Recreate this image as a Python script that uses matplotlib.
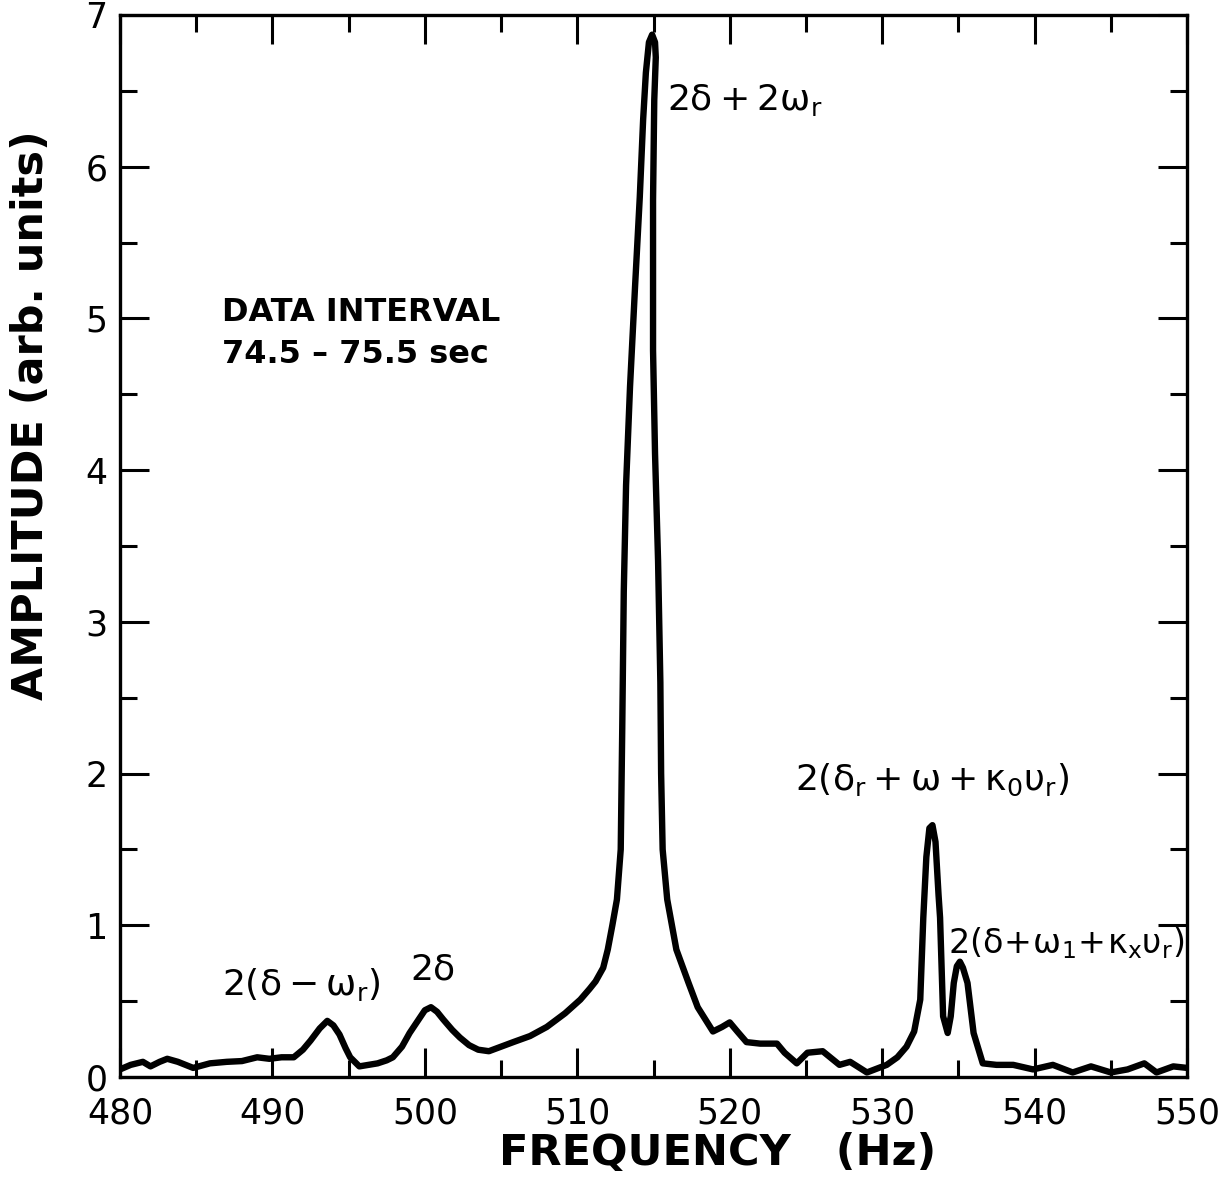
import matplotlib
matplotlib.use("Agg")
import matplotlib.pyplot as plt
from matplotlib.ticker import MultipleLocator

# spectrum (Hz, arb. units)
freq = [480.0, 480.7, 481.5, 482.0, 482.6, 483.1, 483.8, 484.8, 485.9, 487.0,
        488.0, 489.0, 489.8, 490.6, 491.4, 492.0, 492.5, 493.1, 493.6, 494.0,
        494.4, 494.8, 495.1, 495.7, 496.3, 496.9, 497.5, 497.9, 498.5, 499.0,
        499.6, 500.0, 500.4, 500.8, 501.2, 501.8, 502.3, 502.9, 503.5, 504.2,
        505.0, 505.8, 506.9, 508.0, 509.2, 510.2, 510.8, 511.2, 511.7, 512.0,
        512.3, 512.6, 512.85, 512.95, 513.05, 513.2, 513.46, 513.79, 514.1, 514.32,
        514.5, 514.7, 514.91, 515.1, 515.15, 515.05, 514.97, 514.97, 515.1, 515.3,
        515.45, 515.5, 515.6, 515.9, 516.5, 517.3, 517.9, 518.9, 519.5, 520.0,
        520.5, 521.1, 522.0, 523.1, 523.6, 524.4, 525.1, 526.1, 527.2, 527.9,
        529.0, 530.3, 531.0, 531.6, 532.1, 532.5, 532.7, 532.9, 533.1, 533.3,
        533.5, 533.7, 533.8, 534.0, 534.3, 534.5, 534.7, 534.9, 535.1, 535.3,
        535.6, 536.0, 536.6, 537.5, 538.6, 539.9, 541.2, 542.5, 543.7, 545.0,
        546.1, 547.2, 548.0, 549.1, 550.0]
amp = [0.05, 0.08, 0.10, 0.07, 0.10, 0.12, 0.10, 0.06, 0.09, 0.10,
       0.105, 0.13, 0.12, 0.13, 0.13, 0.18, 0.24, 0.32, 0.37, 0.34,
       0.28, 0.19, 0.13, 0.07, 0.08, 0.09, 0.11, 0.13, 0.20, 0.29,
       0.38, 0.44, 0.46, 0.43, 0.38, 0.31, 0.26, 0.21, 0.18, 0.17,
       0.20, 0.23, 0.27, 0.33, 0.42, 0.51, 0.58, 0.63, 0.72, 0.84,
       1.00, 1.17, 1.50, 2.30, 3.20, 3.90, 4.55, 5.21, 5.80, 6.31,
       6.62, 6.82, 6.87, 6.82, 6.72, 6.44, 5.78, 4.79, 4.11, 3.40,
       2.60, 2.00, 1.50, 1.17, 0.84, 0.62, 0.46, 0.30, 0.33, 0.36,
       0.30, 0.23, 0.22, 0.22, 0.16, 0.09, 0.16, 0.17, 0.08, 0.10,
       0.03, 0.08, 0.13, 0.20, 0.30, 0.51, 1.05, 1.45, 1.64, 1.66,
       1.55, 1.20, 1.05, 0.40, 0.29, 0.40, 0.62, 0.73, 0.76, 0.72,
       0.62, 0.29, 0.09, 0.08, 0.08, 0.05, 0.08, 0.03, 0.07, 0.03,
       0.05, 0.09, 0.03, 0.07, 0.06]

labels = [r"$\mathregular{2\delta + 2\omega_r}$",
          r"$\mathregular{2(\delta - \omega_r)}$",
          r"$\mathregular{2\delta}$",
          r"$\mathregular{2(\delta_r + \omega + \kappa_0\upsilon_r)}$",
          r"$\mathregular{2(\delta\!+\!\omega_1\!+\!\kappa_x\upsilon_r)}$"]
label_x = [515.9, 486.7, 499.0, 524.3, 534.3]
label_y = [6.44, 0.61, 0.71, 1.96, 0.88]
label_size = [26, 26, 26, 26, 24]

fig = plt.figure(figsize=(12.27, 11.86), dpi=100)
ax = fig.add_axes([0.0978, 0.0919, 0.8696, 0.8955])

ax.plot(freq, amp, color="black", lw=4.6, solid_joinstyle="round", solid_capstyle="round")

ax.set_xlim(480, 550)
ax.set_ylim(0, 7)
ax.xaxis.set_major_locator(MultipleLocator(10))
ax.xaxis.set_minor_locator(MultipleLocator(5))
ax.yaxis.set_major_locator(MultipleLocator(1))
ax.yaxis.set_minor_locator(MultipleLocator(0.5))
ax.tick_params(which="both", direction="in", top=True, right=True, width=2.2, labelsize=25)
ax.tick_params(which="major", length=21)
ax.tick_params(which="minor", length=12)
ax.tick_params(axis="x", pad=14)
ax.tick_params(axis="y", pad=9)
for s in ax.spines.values():
    s.set_linewidth(2.4)

ax.set_xlabel("FREQUENCY   (Hz)", fontsize=31, fontweight="bold")
ax.xaxis.set_label_coords(0.56, -0.052)
ax.set_ylabel("AMPLITUDE (arb. units)", fontsize=31, fontweight="bold")
ax.yaxis.set_label_coords(-0.064, 0.623)

for txt, x, y, fs in zip(labels, label_x, label_y, label_size):
    ax.text(x, y, txt, fontsize=fs, ha="left", va="center")

ax.text(486.7, 5.04, "DATA INTERVAL", fontsize=23, fontweight="bold", ha="left", va="center")
ax.text(486.7, 4.76, "74.5 \u2013 75.5 sec", fontsize=23, fontweight="bold", ha="left", va="center")

fig.savefig("out.png", dpi=100)
